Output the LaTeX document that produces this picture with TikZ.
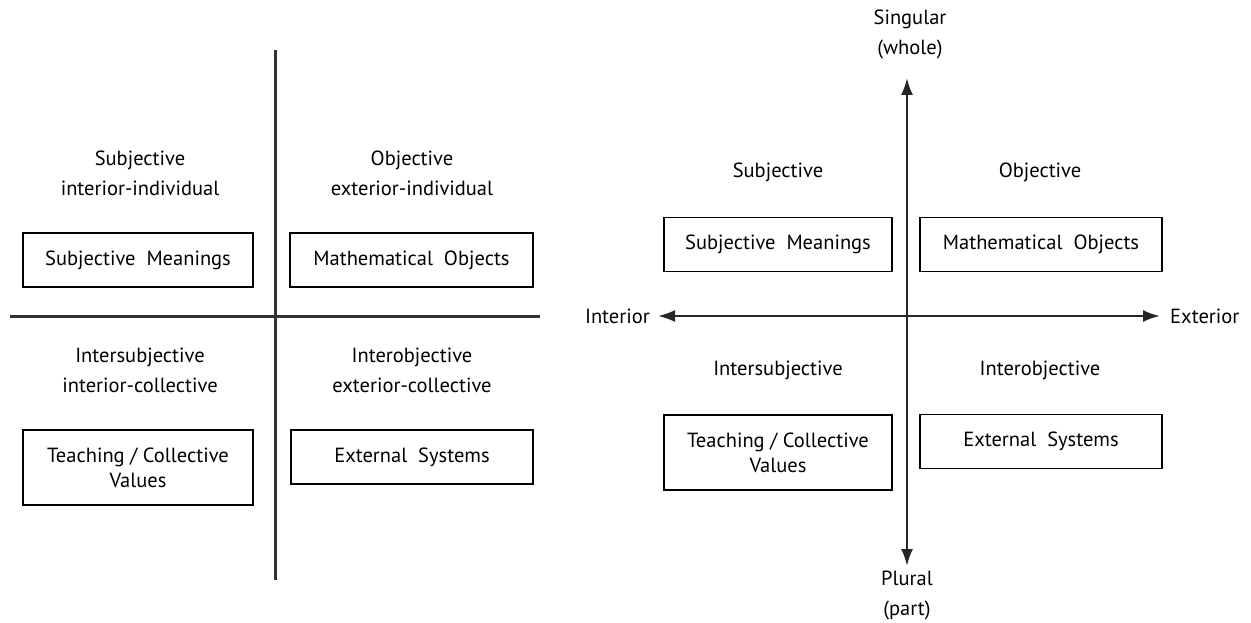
\documentclass[tikz,border=0pt]{standalone}
\usepackage{fontspec}
\setmainfont{PT Sans}
\usetikzlibrary{arrows.meta}
\begin{document}
\begin{tikzpicture}[x=1pt,y=-1pt,
  lbl/.style={font=\fontsize{20.5}{30}\selectfont, align=center, inner sep=0pt},
  qbox/.style={draw=black, line width=1.5pt, font=\fontsize{20.5}{25}\selectfont,
    align=center, inner sep=0pt, minimum height=54pt},
  axis/.style={line width=2.2pt, draw=black!85},
  cross/.style={line width=3pt, draw=black!80},
  tip/.style={-{Latex[length=17pt,width=12pt]}}]
\useasboundingbox (0,0) rectangle (1251,623);

% ---------- left quadrant diagram ----------
\coordinate (vt) at (275,50);
\coordinate (vb) at (275,580);
\coordinate (hl) at (10,316);
\coordinate (hr) at (540,316);
\draw[cross] (vt) -- (vb);
\draw[cross] (hl) -- (hr);

\node[lbl] (lsubj) at (140,173) {Subjective\\interior-individual};
\node[lbl] (lobj) at (412,173) {Objective\\exterior-individual};
\node[lbl] (linter) at (140,370) {Intersubjective\\interior-collective};
\node[lbl] (linterobj) at (412,370) {Interobjective\\exterior-collective};

\node[qbox, minimum width=230pt] (lsm) at (138,260) {Subjective\ \ Meanings};
\node[qbox, minimum width=243pt] (lmo) at (411.5,260) {Mathematical\ \ Objects};
\node[qbox, minimum width=230pt, minimum height=75pt] (ltc) at (138,467.5) {Teaching\ /\ Collective\\Values};
\node[qbox, minimum width=242pt] (les) at (412,457) {External\ \ Systems};

% ---------- right axis diagram ----------
\node[lbl] (sing) at (910,34) {Singular\\(whole)};
\node[lbl] (plur) at (907,595) {Plural\\(part)};
\node[lbl, anchor=east] (intr) at (650,316) {Interior};
\node[lbl, anchor=west] (extr) at (1170,316) {Exterior};

\coordinate (vc) at (907,316);
\draw[axis, tip] (vc) -- (907,78);
\draw[axis, tip] (vc) -- (907,566);
\draw[axis, tip, shorten >=8pt] (vc) -- (intr.east);
\draw[axis, tip, shorten >=10pt] (vc) -- (extr.west);

\node[lbl] (rsubj) at (778,172) {Subjective};
\node[lbl] (robj) at (1040,172) {Objective};
\node[lbl] (rinter) at (778,370) {Intersubjective};
\node[lbl] (rinterobj) at (1040,370) {Interobjective};

\node[qbox, minimum width=228pt] (rsm) at (778,244.5) {Subjective\ \ Meanings};
\node[qbox, minimum width=242pt] (rmo) at (1041,244.5) {Mathematical\ \ Objects};
\node[qbox, minimum width=228pt, minimum height=75pt] (rtc) at (778,452.5) {Teaching\ /\ Collective\\Values};
\node[qbox, minimum width=242pt] (res) at (1041,441.5) {External\ \ Systems};
\end{tikzpicture}
\end{document}
